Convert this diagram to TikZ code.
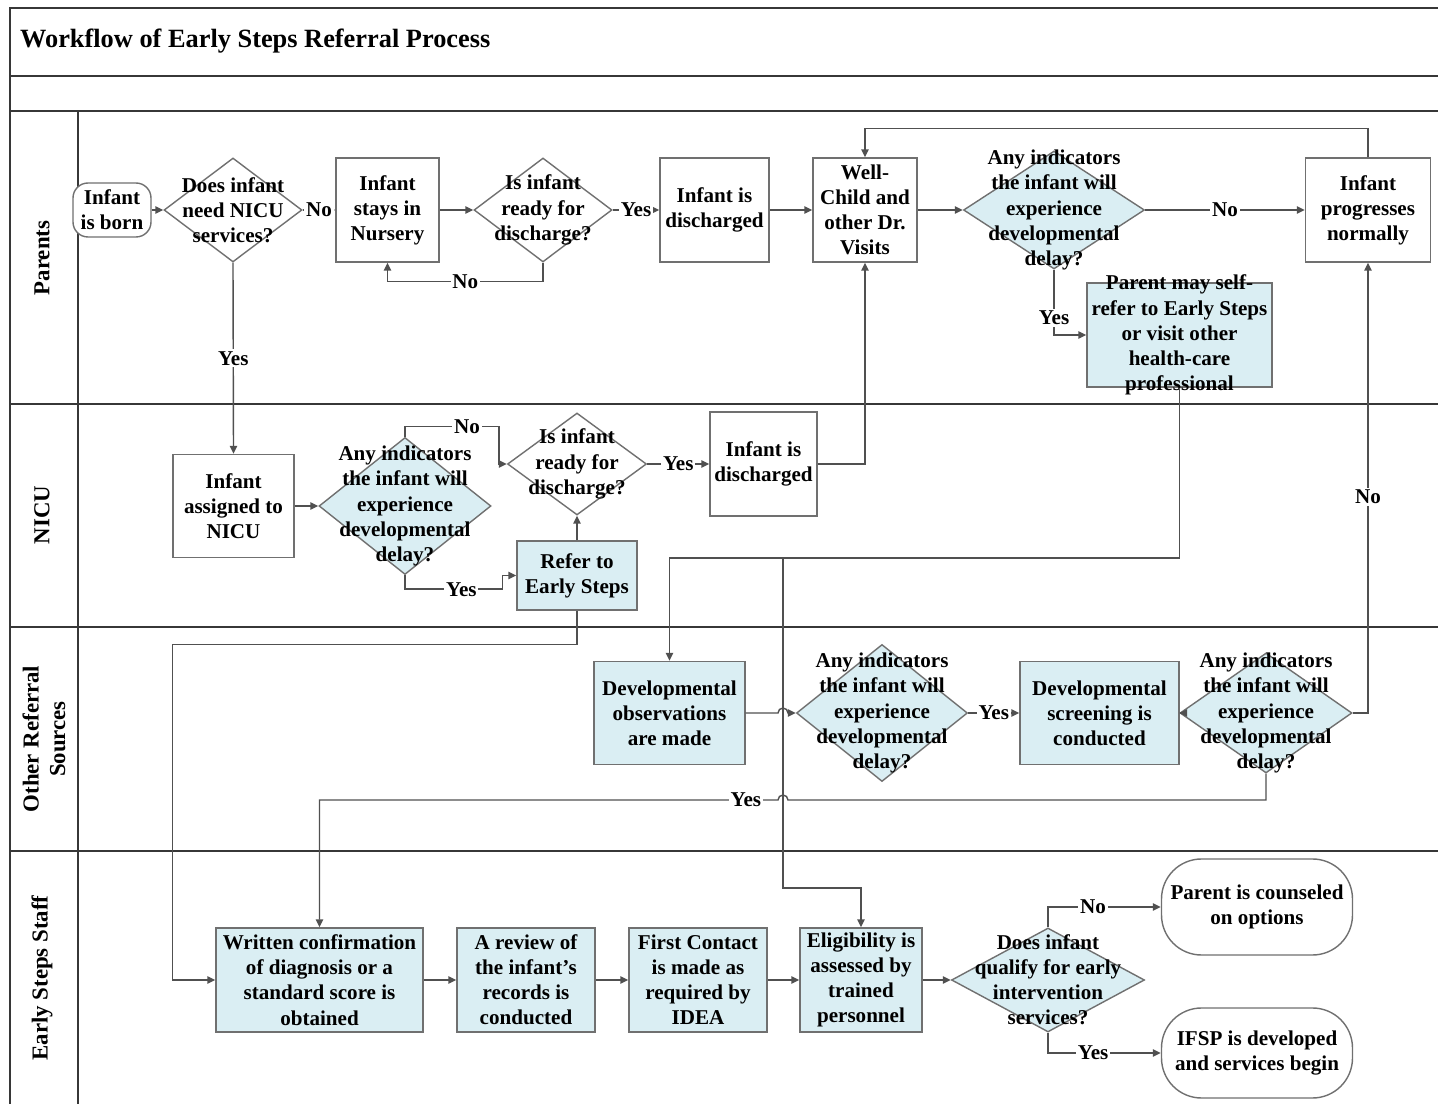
\documentclass[tikz,border=0pt]{standalone}
\usepackage{fontspec}
\setmainfont{Liberation Serif}
\usetikzlibrary{shapes.geometric}
\usetikzlibrary{arrows.meta}
\definecolor{boxblue}{RGB}{218,238,243}
\definecolor{bordergray}{RGB}{112,112,112}
\definecolor{linegray}{RGB}{80,80,80}
\definecolor{lanegray}{RGB}{55,55,55}
\tikzset{
    mybox/.style 2 args = {rectangle, draw=bordergray, line width=0.8pt, inner sep=0pt, fill=white, minimum width=#1*0.02cm, minimum height=#2*0.02cm},
    myboxb/.style 2 args = {mybox={#1}{#2}, fill=boxblue},
    mydia/.style 2 args = {diamond, draw=bordergray, line width=0.8pt, inner sep=0pt, fill=white, minimum width=#1*0.02cm, minimum height=#2*0.02cm},
    mydiab/.style 2 args = {mydia={#1}{#2}, fill=boxblue},
    myterm/.style 2 args = {mybox={#1}{#2}, rounded corners=0.3cm},
    mystad/.style 2 args = {mybox={#1}{#2}, rounded corners=0.8cm},
    mytext/.style = {align=center, inner sep=0pt, font=\fontsize{12}{14.3}\selectfont\bfseries},
    lanetext/.style = {align=center, rotate=90, font=\fontsize{13}{15}\selectfont\bfseries},
    lane/.style = {draw=lanegray, line width=1pt},
    edgen/.style = {-{Triangle[length=4.5pt,width=4.2pt]}, draw=linegray, line width=0.8pt},
    edgeplain/.style = {draw=linegray, line width=0.8pt},
    elabel/.style = {fill=white, inner sep=1pt, font=\fontsize{12}{14}\selectfont\bfseries}
}
\begin{document}
\begin{tikzpicture}[x=0.02cm, y=-0.02cm, font=\bfseries]
\useasboundingbox (0,0) rectangle (1438,1104);
% pool and lanes
\draw[lane] (10,1104) -- (10,8) -- (1438,8);
\foreach \y in {76,111,404,627,851}
    \draw[lane] (10,\y) -- (1438,\y);
\draw[lane] (78,111) -- (78,1104);
\node[anchor=west, font=\fontsize{15}{18}\selectfont\bfseries] (title) at (14,41) {Workflow of Early Steps Referral Process};
\node[lanetext] (lparents) at (42,258) {Parents};
\node[lanetext] (lnicu) at (42,515) {NICU};
\node[lanetext] (lother) at (44,739) {Other Referral\\Sources};
\node[lanetext] (lstaff) at (42,978) {Early Steps Staff};
%
% Parents
\node[myterm={78}{54}, label={[mytext]center:Infant\\is born}] (born) at (112,210) {};
\node[mydia={138}{104}, label={[mytext]center:Does infant\\need NICU\\services?}] (nicuq) at (233,210) {};
\node[mybox={103}{104}, label={[mytext]center:Infant\\stays in\\Nursery}] (nursery) at (387.5,210) {};
\node[mydia={138}{104}, label={[mytext]center:Is infant\\ready for\\discharge?}] (readyq) at (543,210) {};
\node[mybox={109}{104}, label={[mytext]center:Infant is\\discharged}] (homea) at (714.5,210) {};
\node[mybox={104}{104}, label={[mytext]center:Well-\\Child and\\other Dr.\\Visits}] (well) at (865,210) {};
\node[mydiab={181}{118}, label={[mytext]center:Any indicators\\the infant will\\experience\\developmental\\delay?}] (anyp) at (1054,210) {};
\node[mybox={125}{104}, label={[mytext]center:Infant\\progresses\\normally}] (prog) at (1368,210) {};
\node[myboxb={185}{104}, label={[mytext]center:Parent may self-\\refer to Early Steps\\or visit other\\health-care\\professional}] (selfref) at (1179.5,335) {};
%
% NICU
\node[mybox={121}{103}, label={[mytext]center:Infant\\assigned to\\NICU}] (assigned) at (233.5,506) {};
\node[mydiab={172}{137}, label={[mytext]center:Any indicators\\the infant will\\experience\\developmental\\delay?}] (anyn) at (405,506) {};
\node[mydia={139}{102}, label={[mytext]center:Is infant\\ready for\\discharge?}] (readyn) at (577,464) {};
\node[mybox={107}{104}, label={[mytext]center:Infant is\\discharged}] (homeb) at (763.5,464) {};
\node[myboxb={120}{69}, label={[mytext]center:Refer to\\Early Steps}] (refer) at (577,575.5) {};
%
% Other Referral Sources
\node[myboxb={151}{103}, label={[mytext]center:Developmental\\observations\\are made}] (devobs) at (669.5,713) {};
\node[mydiab={171}{137}, label={[mytext]center:Any indicators\\the infant will\\experience\\developmental\\delay?}] (anyo) at (882,713) {};
\node[myboxb={159}{103}, label={[mytext]center:Developmental\\screening is\\conducted}] (devscr) at (1099.5,713) {};
\node[mydiab={172}{120}, label={[mytext]center:Any indicators\\the infant will\\experience\\developmental\\delay?}] (anys) at (1266,713) {};
%
% Early Steps Staff
\node[myboxb={207}{104}, label={[mytext]center:Written confirmation\\of diagnosis or a\\standard score is\\obtained}] (written) at (319.5,980) {};
\node[myboxb={138}{104}, label={[mytext]center:A review of\\the infant’s\\records is\\conducted}] (review) at (526,980) {};
\node[myboxb={138}{104}, label={[mytext]center:First Contact\\is made as\\required by\\IDEA}] (contact) at (698,980) {};
\node[myboxb={122}{104}, label={[mytext]center:Eligibility is\\assessed by\\trained\\personnel}] (elig) at (861,980) {};
\node[mydiab={193}{104}, label={[mytext]center:Does infant\\qualify for early\\intervention\\services?}] (qualq) at (1048,980) {};
\node[mystad={191}{96}, label={[mytext]center:Parent is counseled\\on options}] (couns) at (1257,907) {};
\node[mystad={191}{90}, label={[mytext]center:IFSP is developed\\and services begin}] (ifsp) at (1257,1053) {};
%
\coordinate (split) at (783,558);
\coordinate (splitb) at (783,888);
\coordinate (hopa) at (783,713);
\coordinate (hopb) at (783,800);
%
\draw[edgen] (born.east) -- (nicuq.west);
\draw[edgen] (nicuq.east) -- node[elabel] {No} (nursery.west);
\draw[edgen] (nursery.east) -- (readyq.west);
\draw[edgen] (readyq.south) -- ++(0,19) -| node[elabel,pos=0.25] {No} (nursery.south);
\draw[edgen] (readyq.east) -- node[elabel] {Yes} (homea.west);
\draw[edgen] (homea.east) -- (well.west);
\draw[edgen] (well.east) -- (anyp.west);
\draw[edgen] (anyp.east) -- node[elabel] {No} (prog.west);
\draw[edgen] (anyp.south) |- node[elabel,pos=0.37] {Yes} (selfref.west);
\draw[edgen] (prog.north) -- ++(0,-29) -| (well.north);
\draw[edgen] (nicuq.south) -- node[elabel] {Yes} (assigned.north);
%
\draw[edgen] (assigned.east) -- (anyn.west);
\draw[edgen] (anyn.north) -- ++(0,-10) -| node[elabel,pos=0.33] {No} ([xshift=-0.16cm]readyn.west) -- (readyn.west);
\draw[edgen] (anyn.south) -- ++(0,14) -| node[elabel,pos=0.29] {Yes} ([xshift=-0.28cm]refer.west) -- (refer.west);
\draw[edgen] (refer.north) -- (readyn.south);
\draw[edgen] (readyn.east) -- node[elabel] {Yes} (homeb.west);
\draw[edgen] (homeb.east) -| (well.south);
\draw[edgen] (refer.south) -- ++(0,34) -| ([xshift=-0.86cm]written.west) -- (written.west);
%
\draw[edgen] (selfref.south) |- (split) -| (devobs.north);
\draw[edgen] (split) -- (splitb) -| (elig.north);
\draw[edgen] (devobs.east) -- ([xshift=-0.1cm]hopa) arc[start angle=180, end angle=0, radius=0.1cm] -- (anyo.west);
\draw[edgen] (anyo.east) -- node[elabel] {Yes} (devscr.west);
\draw[edgen] (devscr.east) -- (anys.west);
\draw[edgen] (anys.east) -| node[elabel,pos=0.74] {No} (prog.south);
\draw[edgen] (anys.south) |- ([xshift=0.1cm]hopb) arc[start angle=0, end angle=180, radius=0.1cm] -| node[elabel,pos=0.035] {Yes} (written.north);
%
\draw[edgen] (written.east) -- (review.west);
\draw[edgen] (review.east) -- (contact.west);
\draw[edgen] (contact.east) -- (elig.west);
\draw[edgen] (elig.east) -- (qualq.west);
\draw[edgen] (qualq.north) |- node[elabel,pos=0.70] {No} (couns.west);
\draw[edgen] (qualq.south) |- node[elabel,pos=0.70] {Yes} (ifsp.west);

\end{tikzpicture}
\end{document}
